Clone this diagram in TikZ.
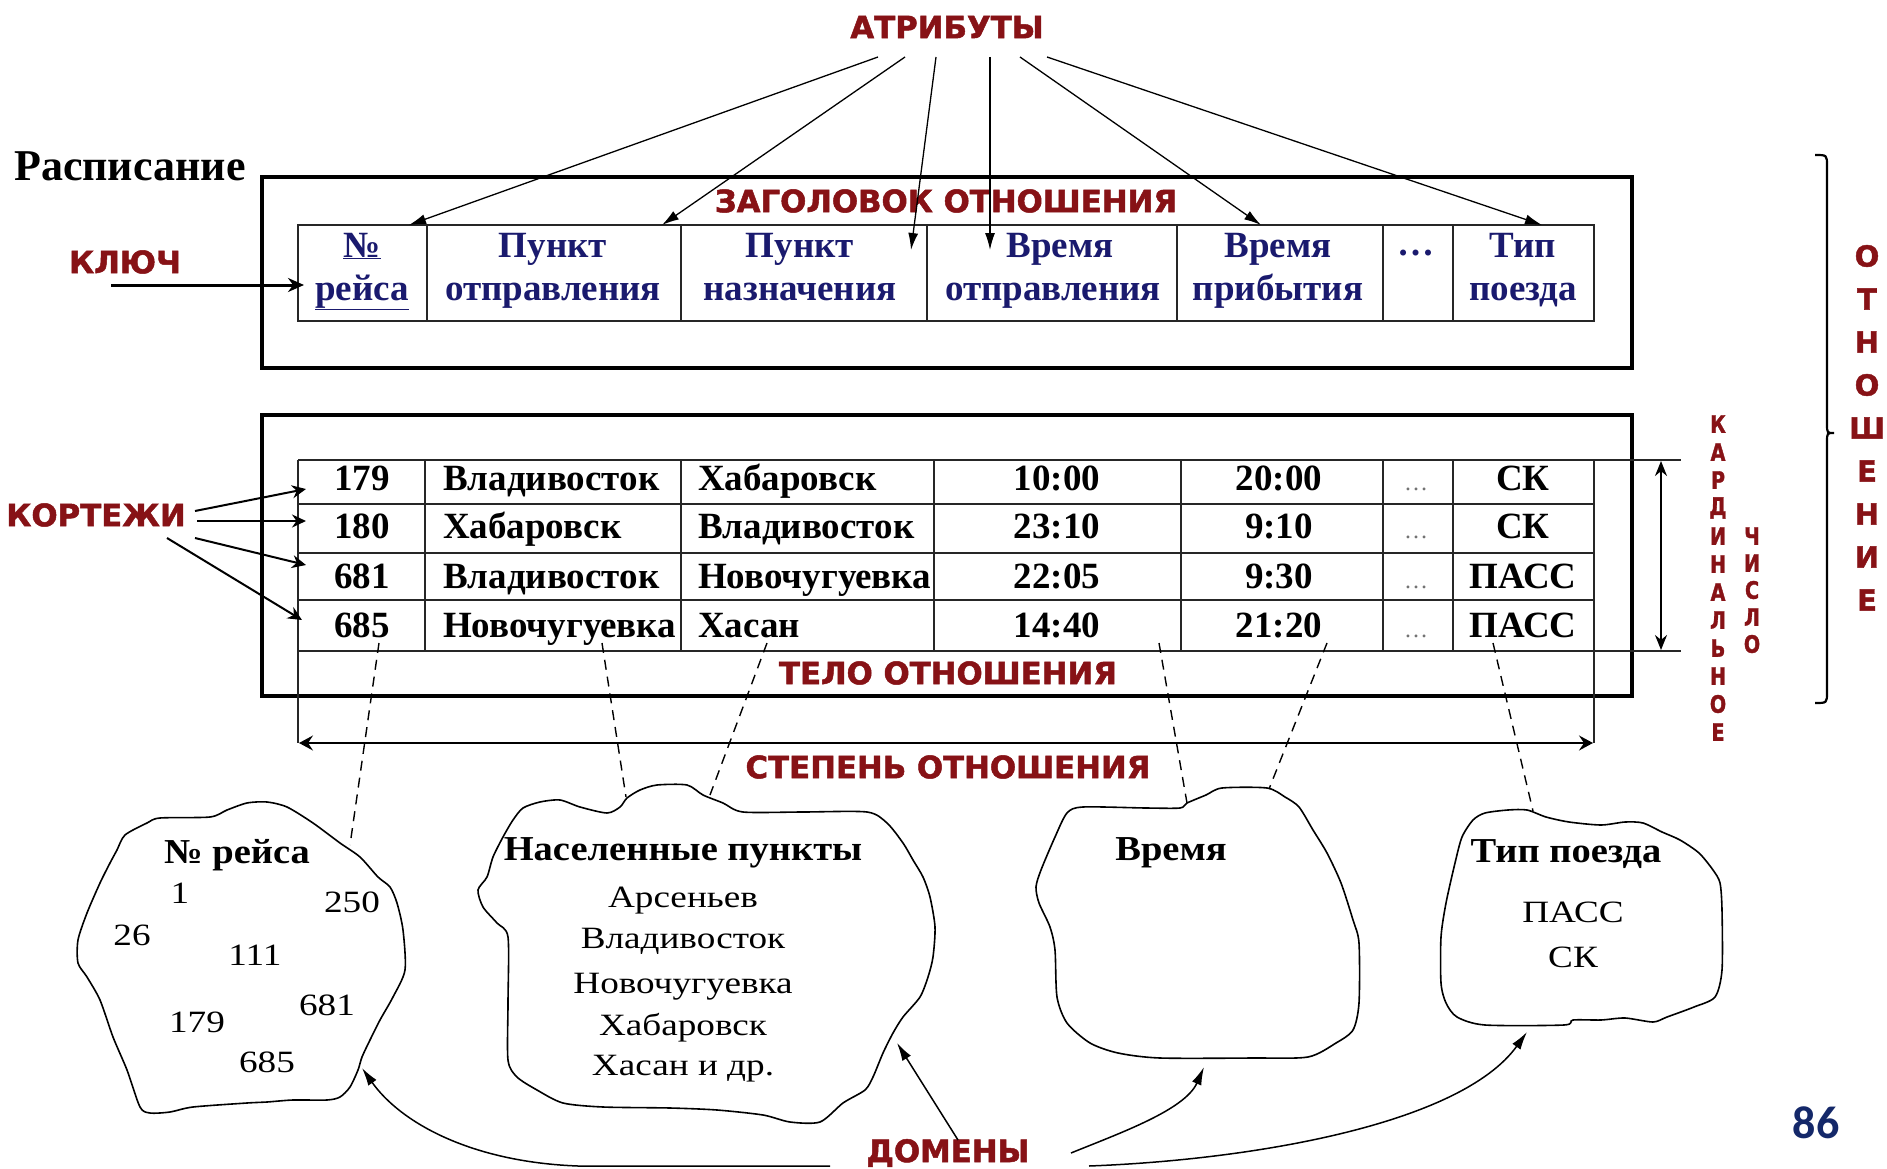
\documentclass[tikz,border=0pt]{standalone}
\usepackage{fontspec}
\setmainfont{Liberation Serif}
\newfontfamily\redfont{DejaVu Sans}[BoldFeatures={FakeBold=1.6}]
\newfontfamily\redcond{DejaVu Sans}[BoldFeatures={FakeBold=1.4,FakeStretch=0.8}]
\newfontfamily\wideserif{Liberation Serif}[FakeStretch=1.2]
\newfontfamily\titleserif{Liberation Serif}[FakeStretch=1.1]
\newfontfamily\pagefont{Carlito}
\usetikzlibrary{arrows.meta}
\definecolor{dred}{RGB}{135,18,22}
\definecolor{navy}{RGB}{26,26,110}
\definecolor{pgblue}{RGB}{20,40,105}
\begin{document}
\begin{tikzpicture}[x=1pt,y=-1pt,
  redlab/.style={font=\redfont\bfseries\fontsize{30.8}{34}\selectfont,text=dred,inner sep=0pt},
  vlet/.style={font=\redcond\bfseries\fontsize{24}{28}\selectfont,text=dred,inner sep=0pt},
  vbig/.style={font=\redfont\bfseries\fontsize{29}{34}\selectfont,text=dred,inner sep=0pt},
  hd/.style={font=\bfseries\fontsize{37}{44}\selectfont,text=navy,inner sep=0pt,anchor=base},
  cell/.style={font=\bfseries\fontsize{37}{44}\selectfont,inner sep=0pt,anchor=base},
  celll/.style={cell,anchor=base west},
  dots/.style={font=\fontsize{24}{28}\selectfont,text=black!55,inner sep=0pt,anchor=base},
  ctitle/.style={font=\titleserif\bfseries\fontsize{35}{40}\selectfont,inner sep=0pt,text height=0.68em,text depth=0.22em},
  ctext/.style={font=\wideserif\fontsize{31}{36}\selectfont,inner sep=0pt,text height=0.68em,text depth=0.22em},
  outerbox/.style={line width=4.5pt},
  tline/.style={line width=2.2pt,draw=black!85},
  attr/.style={line width=1.3pt,-{Latex[length=17pt,width=10pt]}},
  cloudline/.style={line width=1.6pt},
  dline/.style={line width=1.4pt,dash pattern=on 10pt off 7pt},
  dom/.style={line width=1.5pt,-{Latex[length=18pt,width=10pt]}},
  kort/.style={line width=2pt,-{Stealth[length=14pt,width=13pt]}},
]
\useasboundingbox (0,0) rectangle (1887,1169);
\fill[white] (0,0) rectangle (1887,1169);

% ---------- outer boxes ----------
\draw[outerbox] (262,177) rectangle (1632,368);
\draw[outerbox] (262,415) rectangle (1632,696);

% ---------- header table ----------
\draw[tline] (298,225) rectangle (1594,321);
\foreach \x in {427,681,927,1177,1383,1453} \draw[tline] (\x,225) -- (\x,321);

\node[hd] (h1a) at (362,257) {\underline{№}};
\node[hd] (h1b) at (362,300) {\underline{рейса}};
\node[hd] (h2a) at (553,257) {Пункт};
\node[hd] (h2b) at (553,300) {отправления};
\node[hd] (h3a) at (800,257) {Пункт};
\node[hd] (h3b) at (800,300) {назначения};
\node[hd] (h4a) at (1060,257) {Время};
\node[hd] (h4b) at (1053,300) {отправления};
\node[hd] (h5a) at (1278,257) {Время};
\node[hd] (h5b) at (1278,300) {прибытия};
\node[hd] (h6a) at (1416,255) {…};
\node[hd] (h7a) at (1523,257) {Тип};
\node[hd] (h7b) at (1523,300) {поезда};

% ---------- body table ----------
\draw[tline] (298,460) -- (1681,460);
\draw[tline] (298,651) -- (1681,651);
\foreach \y in {504,553,600} \draw[tline] (298,\y) -- (1594,\y);
\draw[tline] (298,460) -- (298,743);
\draw[tline] (1594,460) -- (1594,743);
\foreach \x in {425,681,934,1181,1383,1453} \draw[tline] (\x,460) -- (\x,651);

\node[cell]  (r1c1) at (362,490) {179};
\node[celll] (r1c2) at (443,490) {Владивосток};
\node[celll] (r1c3) at (698,490) {Хабаровск};
\node[cell]  (r1c4) at (1057,490) {10:00};
\node[cell]  (r1c5) at (1279,490) {20:00};
\node[dots]  (r1c6) at (1416,490) {…};
\node[cell]  (r1c7) at (1523,490) {СК};

\node[cell]  (r2c1) at (362,538) {180};
\node[celll] (r2c2) at (443,538) {Хабаровск};
\node[celll] (r2c3) at (698,538) {Владивосток};
\node[cell]  (r2c4) at (1057,538) {23:10};
\node[cell]  (r2c5) at (1279,538) {9:10};
\node[dots]  (r2c6) at (1416,538) {…};
\node[cell]  (r2c7) at (1523,538) {СК};

\node[cell]  (r3c1) at (362,588) {681};
\node[celll] (r3c2) at (443,588) {Владивосток};
\node[celll] (r3c3) at (698,588) {Новочугуевка};
\node[cell]  (r3c4) at (1057,588) {22:05};
\node[cell]  (r3c5) at (1279,588) {9:30};
\node[dots]  (r3c6) at (1416,588) {…};
\node[cell]  (r3c7) at (1523,588) {ПАСС};

\node[cell]  (r4c1) at (362,637) {685};
\node[celll] (r4c2) at (443,637) {Новочугуевка};
\node[celll] (r4c3) at (698,637) {Хасан};
\node[cell]  (r4c4) at (1057,637) {14:40};
\node[cell]  (r4c5) at (1279,637) {21:20};
\node[dots]  (r4c6) at (1416,637) {…};
\node[cell]  (r4c7) at (1523,637) {ПАСС};

% ---------- labels ----------
\node[anchor=base west,inner sep=0pt,font=\bfseries\fontsize{44}{48}\selectfont] (rasp) at (14,181) {Расписание};
\node[redlab] (atr) at (947,27) {АТРИБУТЫ};
\node[redlab] (zag) at (946,201) {ЗАГОЛОВОК ОТНОШЕНИЯ};
\node[redlab] (key) at (125,262) {КЛЮЧ};
\node[redlab] (kor) at (96,515) {КОРТЕЖИ};
\node[redlab] (telo) at (948,673) {ТЕЛО ОТНОШЕНИЯ};
\node[redlab] (step) at (948,767) {СТЕПЕНЬ ОТНОШЕНИЯ};
\node[redlab] (dom) at (948,1153) {ДОМЕНЫ};
\node[inner sep=0pt,font=\pagefont\bfseries\fontsize{46}{50}\selectfont,text=pgblue] (pg) at (1816,1123) {86};

\foreach \l [count=\i] in {К,А,Р,Д,И,Н,А,Л,Ь,Н,О,Е}
  \node[vlet,name=kd\i] at (1718,{424+(\i-1)*28}) {\l};
\foreach \l [count=\i] in {Ч,И,С,Л,О}
  \node[vlet,name=ch\i] at (1752,{536+(\i-1)*27}) {\l};
\foreach \l [count=\i] in {О,Т,Н,О,Ш,Е,Н,И,Е}
  \node[vbig,name=ot\i] at (1867,{256+(\i-1)*43}) {\l};

% ---------- brace ----------
\coordinate (bt) at (1815,155);
\coordinate (bm) at (1834,433);
\coordinate (bb) at (1815,703);
\draw[line width=2.2pt] (bt) .. controls (1827,155) .. (1827,166) -- (1827,424)
  .. controls (1827,433) .. (bm) .. controls (1827,433) .. (1827,442) -- (1827,692)
  .. controls (1827,703) .. (bb);

% ---------- cardinal / degree arrows ----------
\coordinate (ct) at (1661,461);
\coordinate (cb) at (1661,650);
\draw[line width=1.6pt,{Stealth[length=15pt,width=12pt]}-{Stealth[length=15pt,width=12pt]}] (ct) -- (cb);
\coordinate (sl) at (299,743);
\coordinate (sr) at (1593,743);
\draw[line width=2pt,{Stealth[length=14pt,width=15pt,inset=5pt]}-{Stealth[length=14pt,width=15pt,inset=5pt]}] (sl) -- (sr);

% ---------- attribute arrows ----------
\foreach \i/\sx/\tx/\ty in {1/878/409/225, 2/905/662/225, 3/936/911/250, 4/990/990/250, 5/1020/1261/225, 6/1047/1542/225}{
  \coordinate (as\i) at (\sx,57);
  \coordinate (at\i) at (\tx,\ty);
  \draw[attr] (as\i) -- (at\i);
}

% ---------- key arrow ----------
\coordinate (ks) at (111,285);
\coordinate (ke) at (304,285);
\draw[line width=3pt,-{Stealth[length=16pt,width=14pt]}] (ks) -- (ke);

% ---------- tuple arrows ----------
\foreach \i/\sx/\sy/\ex/\ey in {1/195/511/306/489, 2/197/521/306/521, 3/195/538/306/565, 4/167/538/302/620}{
  \coordinate (ts\i) at (\sx,\sy);
  \coordinate (te\i) at (\ex,\ey);
  \draw[kort] (ts\i) -- (te\i);
}

% ---------- clouds ----------
\draw[cloudline] plot[smooth cycle,tension=0.45] coordinates {(117,850) (125,835) (147,823) (160,818) (210,817) (227,810) (247,803) (267,802) (287,807) (313,823) (340,843) (360,857) (378,877) (390,887) (397,903) (403,930) (405,970) (393,997) (380,1020) (370,1040) (362,1057) (358,1070) (350,1087) (340,1097) (327,1100) (293,1100) (267,1102) (247,1103) (193,1107) (170,1112) (150,1113) (140,1107) (127,1070) (113,1037) (100,1000) (87,977) (78,963) (78,940) (87,913) (100,883) (110,863)};
\draw[cloudline] plot[smooth cycle,tension=0.45] coordinates {(513,820) (523,808) (540,802) (560,800) (580,807) (607,813) (620,807) (627,798) (640,790) (657,785) (687,785) (703,795) (723,803) (743,812) (803,812) (867,812) (887,823) (903,843) (913,860) (923,877) (930,897) (935,927) (933,957) (928,977) (920,997) (903,1017) (893,1033) (883,1053) (873,1077) (865,1090) (843,1103) (820,1122) (790,1122) (763,1115) (717,1110) (670,1108) (603,1107) (563,1103) (537,1090) (517,1077) (508,1060) (508,1003) (508,937) (497,923) (483,907) (478,890) (487,877) (493,857) (503,837)};
\draw[cloudline] plot[smooth cycle,tension=0.45] coordinates {(1083,807) (1146,808) (1180,808) (1187,803) (1206,795) (1222,788) (1267,788) (1285,797) (1299,807) (1313,830) (1327,853) (1341,883) (1353,920) (1359,943) (1359,1003) (1353,1030) (1336,1043) (1308,1057) (1253,1058) (1160,1058) (1118,1053) (1090,1043) (1067,1023) (1057,997) (1055,950) (1050,927) (1039,903) (1036,887) (1041,870) (1055,837) (1067,813)};
\draw[cloudline] plot[smooth cycle,tension=0.45] coordinates {(1473,820) (1485,813) (1508,810) (1527,810) (1546,817) (1569,822) (1601,825) (1625,822) (1643,823) (1662,832) (1680,840) (1699,853) (1713,870) (1720,883) (1722,910) (1722,970) (1715,997) (1694,1007) (1667,1017) (1653,1022) (1625,1018) (1601,1020) (1573,1020) (1564,1025) (1485,1025) (1457,1017) (1446,1003) (1441,983) (1441,937) (1446,903) (1455,863) (1462,837)};

% cloud texts
\node[ctitle] (d1t) at (237,861) {№ рейса};
\node[ctext] (n1) at (180,901) {1};
\node[ctext] (n250) at (352,910) {250};
\node[ctext] (n26) at (132,943) {26};
\node[ctext] (n111) at (255,963) {111};
\node[ctext] (n681) at (327,1013) {681};
\node[ctext] (n179) at (197,1030) {179};
\node[ctext] (n685) at (267,1070) {685};

\node[ctitle] (d2t) at (683,858) {Населенные пункты};
\node[ctext] (c1) at (683,905) {Арсеньев};
\node[ctext] (c2) at (683,946) {Владивосток};
\node[ctext] (c3) at (683,991) {Новочугуевка};
\node[ctext] (c4) at (683,1033) {Хабаровск};
\node[ctext] (c5) at (683,1073) {Хасан и др.};

\node[ctitle] (d3t) at (1171,858) {Время};

\node[ctitle] (d4t) at (1566,860) {Тип поезда};
\node[ctext] (p1) at (1573,920) {ПАСС};
\node[ctext] (p2) at (1573,965) {СК};

% ---------- dashed links ----------
\foreach \i/\ax/\bx/\by in {1/379/350/845, 2/602/626/797, 3/767/710/795, 4/1159/1187/803, 5/1327/1269/789, 6/1493/1533/811}{
  \coordinate (ds\i) at (\ax,643);
  \coordinate (de\i) at (\bx,\by);
  \draw[dline] (ds\i) -- (de\i);
}

% ---------- domain arrows ----------
\coordinate (dA) at (830,1166);
\coordinate (tA) at (362,1068);
\draw[dom] (dA) -- (578,1166) .. controls (470,1162) and (400,1122) .. (tA);
\coordinate (dB) at (958,1140);
\coordinate (tB) at (897,1043);
\draw[dom] (dB) -- (tB);
\coordinate (dC) at (1071,1153);
\coordinate (tC) at (1204,1067);
\draw[dom] (dC) .. controls (1120,1133) and (1185,1110) .. (tC);
\coordinate (dD) at (1089,1166);
\coordinate (tD) at (1527,1032);
\draw[dom] (dD) .. controls (1250,1160) and (1460,1125) .. (tD);
\end{tikzpicture}
\end{document}
